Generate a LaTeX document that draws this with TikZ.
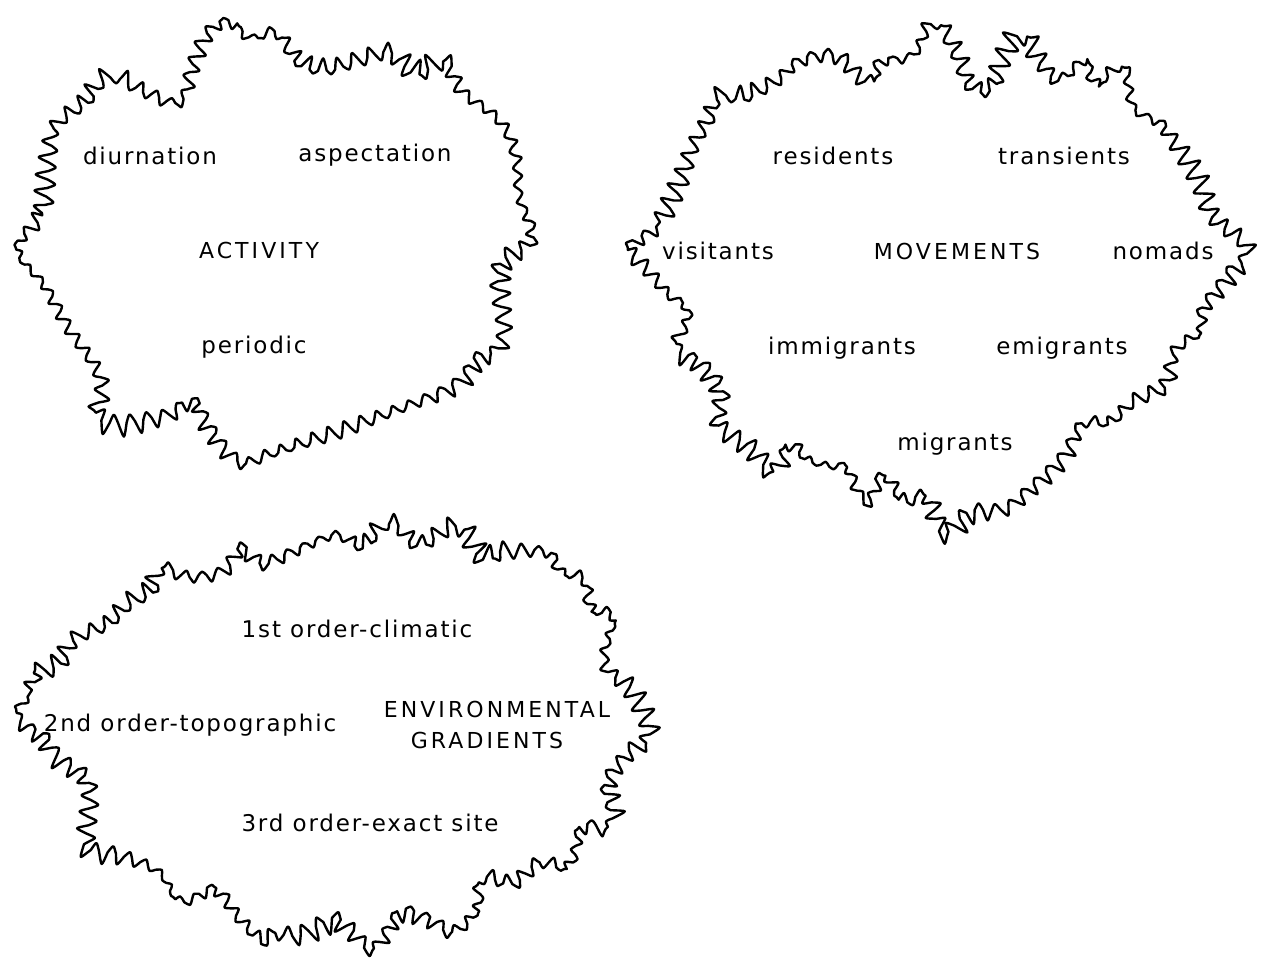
\documentclass[tikz,border=0pt]{standalone}
\usepackage{fontspec}
\usetikzlibrary{decorations}
\setmainfont{DejaVu Sans}[LetterSpace=8]
\newfontfamily\capfont{DejaVu Sans}[LetterSpace=14]
\pgfdeclaredecoration{wobble}{up}{
  \state{up}[width=8.5pt, next state=down]{
    \pgfmathsetmacro\wobA{8+4*sin(0.9*\pgfdecoratedcompleteddistance)+3*sin(2.7*\pgfdecoratedcompleteddistance+40)}
    \pgfpathcurveto{\pgfpoint{1.6pt}{0.45*\wobA pt}}{\pgfpoint{3.3pt}{\wobA pt}}{\pgfpoint{4.25pt}{\wobA pt}}
    \pgfpathcurveto{\pgfpoint{5.2pt}{\wobA pt}}{\pgfpoint{6.9pt}{0.45*\wobA pt}}{\pgfpoint{8.5pt}{0pt}}
  }
  \state{down}[width=8.5pt, next state=up]{
    \pgfmathsetmacro\wobB{6+2.5*sin(1.3*\pgfdecoratedcompleteddistance+100)}
    \pgfpathcurveto{\pgfpoint{1.6pt}{-0.45*\wobB pt}}{\pgfpoint{3.3pt}{-\wobB pt}}{\pgfpoint{4.25pt}{-\wobB pt}}
    \pgfpathcurveto{\pgfpoint{5.2pt}{-\wobB pt}}{\pgfpoint{6.9pt}{-0.45*\wobB pt}}{\pgfpoint{8.5pt}{0pt}}
  }
  \state{final}{\pgfpathlineto{\pgfpointdecoratedpathlast}}
}
\begin{document}
\begin{tikzpicture}[x=1pt,y=-1pt,
  blobline/.style={line width=2.4pt, line join=round, line cap=round,
    decorate, decoration={wobble}},
  lbl/.style={inner sep=0pt, font=\fontsize{23}{31}\selectfont, align=center},
  capslbl/.style={inner sep=0pt, align=center, font=\fontsize{22}{31}\capfont}]
\useasboundingbox (0,0) rectangle (1262,974);

% ACTIVITY outline
\draw[blobline] plot[smooth cycle, tension=0.7] coordinates {
  (18,250) (42,213) (50,157) (57,127) (86,104) (110,80) (145,92) (178,100)
  (192,67) (208,33) (228,22) (250,36) (275,34) (297,62) (326,70) (360,60)
  (388,54) (414,72) (444,64) (462,90) (498,120) (514,155) (520,195) (532,238)
  (500,268) (502,338) (476,358) (455,382) (410,405) (360,424) (310,442)
  (270,455) (240,460) (212,428) (194,402) (160,416) (104,420) (100,380)
  (72,333) (48,290)};

% MOVEMENTS outline
\draw[blobline] plot[smooth cycle, tension=0.7] coordinates {
  (631,248) (660,222) (680,186) (694,148) (712,118) (720,100) (745,98)
  (775,82) (800,60) (836,56) (866,80) (880,62)
  (912,54) (933,26) (954,54) (968,84) (990,88) (1004,60) (1020,38) (1040,62)
  (1058,78) (1083,62) (1095,82) (1122,70) (1134,106) (1160,122) (1170,135)
  (1197,180) (1212,216) (1244,248) (1228,272) (1203,307)
  (1200,330) (1176,352) (1166,384) (1135,402) (1112,422)
  (1083,425) (1062,455) (1030,487) (1005,507) (971,512) (945,530) (928,500)
  (904,500) (884,478) (866,500) (848,470) (828,466) (808,460) (792,446)
  (774,468) (752,448) (720,425) (722,393) (704,364) (680,348) (688,314)
  (667,293) (648,270)};

% ENVIRONMENTAL GRADIENTS outline
\draw[blobline] plot[smooth cycle, tension=0.7] coordinates {
  (20,717) (32,690) (36,677) (60,663) (76,640) (108,625) (130,606) (152,592)
  (162,572) (190,576) (222,570) (240,550) (262,562) (288,553) (310,543)
  (336,536) (362,546) (390,526) (418,544) (456,528) (480,556) (504,552)
  (546,552) (560,570) (582,580) (590,607) (612,618)
  (606,663) (626,685) (640,708) (648,735) (628,753) (606,783) (610,820)
  (582,828) (570,864) (540,864) (514,882) (485,880) (478,910) (454,930)
  (430,918) (400,912) (374,946) (352,930) (334,920) (300,934)
  (278,934) (262,940) (240,920) (216,890) (182,900) (157,872) (122,856)
  (90,848) (88,828) (88,783) (60,757) (46,737)};

% ACTIVITY labels
\node[lbl] (diurn) at (150,156) {diurnation};
\node[lbl] (aspec) at (375,155) {aspectation};
\node[capslbl] (activ) at (259,250) {ACTIVITY};
\node[lbl] (perio) at (254,347) {periodic};

% MOVEMENTS labels
\node[lbl] (resid) at (833,156) {residents};
\node[lbl] (trans) at (1064,156) {transients};
\node[lbl] (visit) at (718,251) {visitants};
\node[capslbl] (movem) at (957,251) {MOVEMENTS};
\node[lbl] (nomad) at (1163,251) {nomads};
\node[lbl] (immig) at (842,348) {immigrants};
\node[lbl] (emigr) at (1062,348) {emigrants};
\node[lbl] (migra) at (955,444) {migrants};

% ENVIRONMENTAL GRADIENTS labels
\node[lbl] (first) at (357,629) {1st order-climatic};
\node[lbl] (secnd) at (190,725) {2nd order-topographic};
\node[capslbl] (envir) at (497,725) {ENVIRONMENTAL\\GRADIENTS\hspace*{20pt}};
\node[lbl] (third) at (370,823) {3rd order-exact site};
\end{tikzpicture}
\end{document}
